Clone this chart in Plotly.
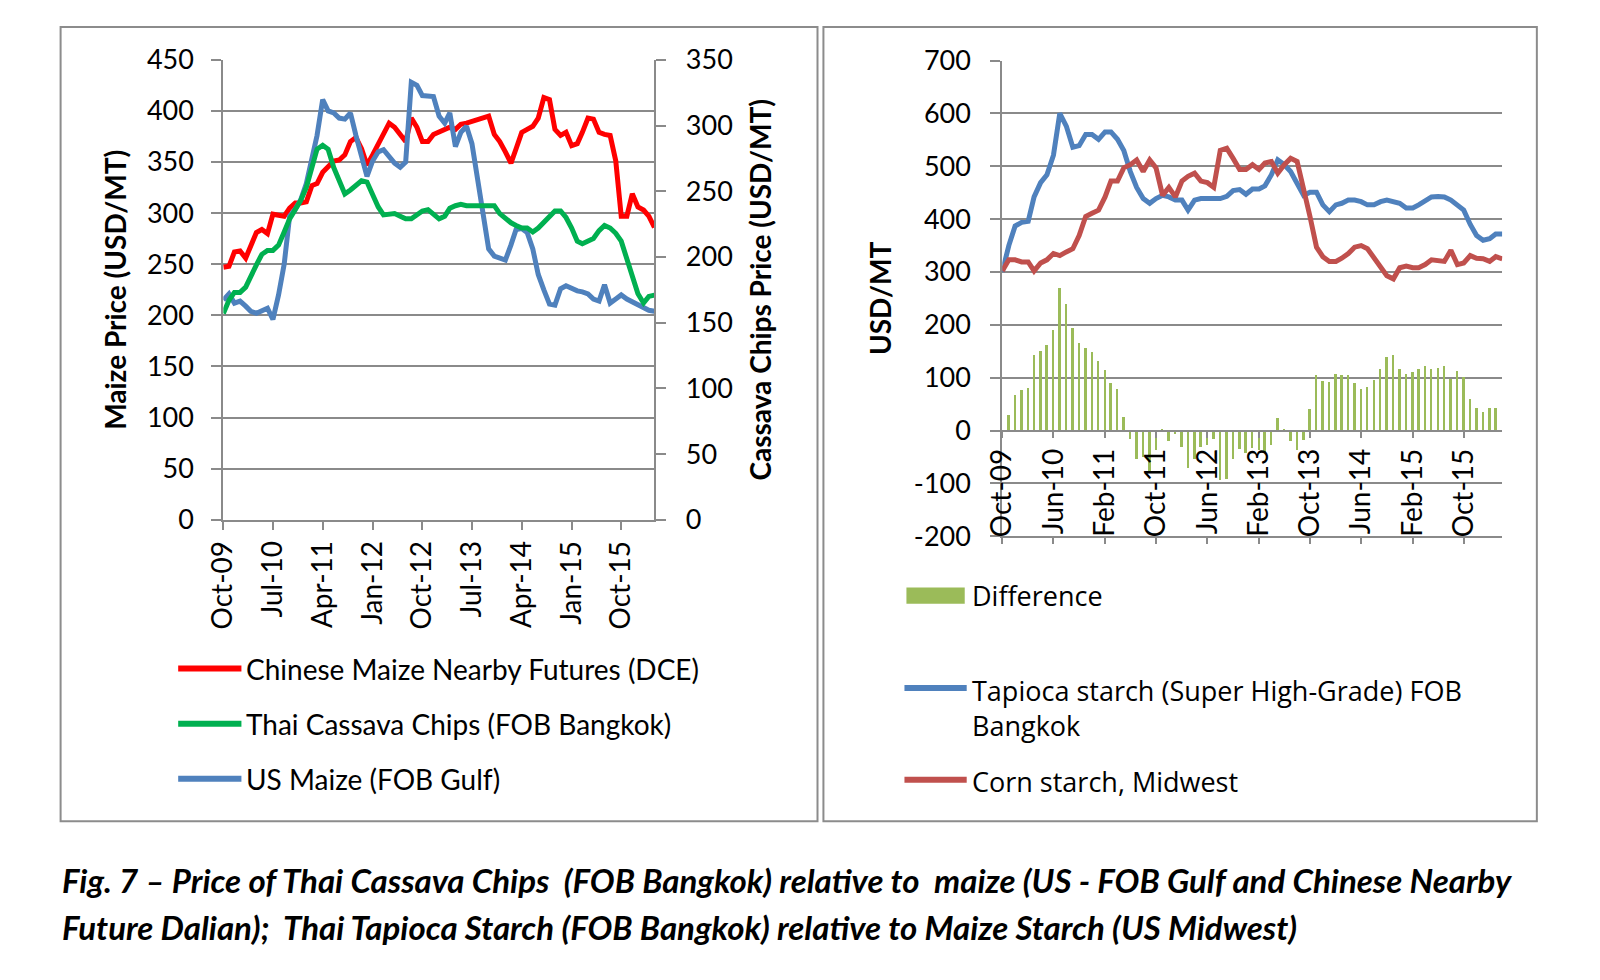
import pandas as pd
import plotly.graph_objects as go

# monthly observations, Oct-09 .. Apr-16
months = pd.date_range("2009-10-01", periods=79, freq="MS")

# left panel (USD/MT)
chinese_maize = [247, 248, 262, 263, 256, 269, 281, 284, 280, 299,
                 298, 297, 305, 310, 310, 311, 327, 329, 340, 346,
                 351, 352, 357, 370, 374, 363, 347, 357, 368, 379,
                 388, 384, 377, 370, 393, 384, 370, 370, 377, 379,
                 381, 384, 382, 387, 388, 390, 392, 393, 395, 377,
                 370, 360, 349, 363, 379, 382, 385, 393, 413, 411,
                 382, 376, 379, 366, 368, 379, 393, 392, 379, 377,
                 376, 351, 297, 297, 319, 306, 303, 297, 286]
thai_cassava = [157, 167, 173, 173, 177, 186, 194, 202, 205, 205,
                209, 219, 229, 236, 243, 253, 268, 282, 285, 282,
                268, 258, 248, 251, 254, 258, 257, 248, 238, 232,
                233, 233, 231, 229, 229, 232, 235, 236, 232, 229,
                231, 237, 239, 240, 239, 239, 239, 239, 239, 239,
                233, 229, 226, 224, 222, 222, 219, 222, 226, 231,
                235, 235, 230, 222, 212, 210, 212, 214, 220, 224,
                222, 218, 212, 199, 184, 172, 165, 170, 171]
us_maize = [215, 221, 212, 214, 209, 204, 202, 205, 207, 196,
            220, 250, 297, 304, 313, 329, 354, 376, 411, 400,
            398, 393, 392, 398, 376, 354, 336, 351, 360, 362,
            355, 349, 345, 350, 428, 425, 415, 414, 414, 395,
            388, 398, 365, 379, 385, 368, 335, 300, 265, 258,
            256, 254, 269, 284, 285, 281, 265, 240, 225, 211,
            210, 226, 229, 226, 224, 223, 221, 216, 214, 230,
            212, 216, 220, 216, 213, 210, 207, 205, 204]

# right panel (USD/MT)
tapioca_starch = [300, 350, 387, 394, 396, 442, 469, 484, 521, 600,
                  576, 536, 539, 560, 560, 551, 565, 565, 551, 530,
                  490, 460, 439, 430, 439, 445, 442, 436, 436, 417,
                  436, 439, 439, 439, 439, 443, 454, 456, 447, 457,
                  457, 463, 484, 512, 503, 490, 466, 445, 451, 451,
                  427, 414, 427, 430, 436, 436, 433, 427, 427, 433,
                  436, 433, 430, 421, 421, 427, 436, 442, 443, 442,
                  436, 427, 417, 390, 369, 360, 363, 372, 372]
corn_starch = [302, 323, 323, 319, 319, 302, 317, 323, 335, 331,
               338, 344, 369, 405, 411, 417, 442, 472, 472, 497,
               503, 512, 490, 512, 497, 445, 460, 442, 472, 481,
               487, 472, 469, 460, 530, 534, 515, 494, 494, 503,
               494, 506, 509, 487, 503, 515, 509, 460, 405, 347,
               329, 320, 320, 326, 335, 347, 350, 344, 326, 308,
               293, 287, 308, 311, 308, 308, 314, 323, 321, 320,
               341, 314, 317, 331, 326, 325, 320, 329, 325]
difference = [0, 31, 68, 78, 82, 143, 152, 163, 191, 270,
              240, 195, 167, 156, 149, 133, 116, 91, 80, 26,
              -16, -53, -50, -78, -36, 4, -19, -5, -31, -71,
              -53, -31, -27, -16, -92, -91, -54, -34, -42, -33,
              -36, -41, -27, 25, 4, -19, -36, -18, 41, 105,
              94, 93, 107, 105, 105, 90, 80, 83, 97, 118,
              139, 143, 118, 107, 111, 118, 122, 118, 120, 123,
              98, 113, 103, 60, 43, 35, 44, 44]

right_ticks = [-200, -100, 0, 100, 200, 300, 400, 500, 600, 700]
right_ticktext = ["-200", "-100", "0", "100", "200", "300", "400", "500", "600", "700"]

W, H = 1600, 980
FONT = "Lato, 'Open Sans', sans-serif"
LEGEND_FONT = "'Open Sans', Lato, sans-serif"
GRID = "#8a8a8a"
LW = 5
TICK_FONT = dict(family=FONT, size=27, color="black")
XTICK_FONT = dict(family=FONT, size=28, color="black")
TITLE_FONT = dict(family=FONT, size=28, color="black")


def px(x):
    return x / W


def py(y):
    return 1 - y / H


fig = go.Figure()

# ---- left panel lines
fig.add_trace(go.Scatter(x=months, y=chinese_maize, mode="lines", name="Chinese Maize Nearby Futures (DCE)",
                         line=dict(color="#FF0000", width=LW), xaxis="x", yaxis="y"))
fig.add_trace(go.Scatter(x=months, y=thai_cassava, mode="lines", name="Thai Cassava Chips (FOB Bangkok)",
                         line=dict(color="#00B050", width=LW), xaxis="x", yaxis="y2"))
fig.add_trace(go.Scatter(x=months, y=us_maize, mode="lines", name="US Maize (FOB Gulf)",
                         line=dict(color="#4F81BD", width=LW), xaxis="x", yaxis="y"))

# ---- right panel: bars on the axis through zero, lines on the bottom axis
fig.add_trace(go.Bar(x=months[:len(difference)], y=difference, name="Difference",
                     marker=dict(color="#9BBB59", line=dict(width=0)),
                     width=0.38 * 30.44 * 86400000, xaxis="x3", yaxis="y3"))
fig.add_trace(go.Scatter(x=months, y=tapioca_starch, mode="lines",
                         name="Tapioca starch (Super High-Grade) FOB Bangkok",
                         line=dict(color="#4F81BD", width=LW), xaxis="x2", yaxis="y3"))
fig.add_trace(go.Scatter(x=months, y=corn_starch, mode="lines", name="Corn starch, Midwest",
                         line=dict(color="#C0504D", width=LW), xaxis="x2", yaxis="y3"))

date_range = ["2009-10-01", "2016-04-01"]
left_dom_y = [py(511), py(35)]
right_dom_y = [py(528), py(35.8)]
zero_pos = right_dom_y[0] + (0 - (-200)) / 900 * (right_dom_y[1] - right_dom_y[0])

axis_common = dict(showline=True, linecolor=GRID, linewidth=2, tickcolor=GRID, tickwidth=2,
                   ticks="outside", zeroline=False)

fig.update_layout(
    width=W, height=H,
    margin=dict(l=0, r=0, t=0, b=0),
    paper_bgcolor="white", plot_bgcolor="white",
    showlegend=False,
    bargap=0,
    xaxis=dict(domain=[px(198.7), px(635)], anchor="y", type="date", range=date_range,
               tick0="2009-10-01", dtick="M9", tickformat="%b-%y", tickangle=-90,
               ticklen=8, showgrid=False, ticklabelstandoff=0, tickfont=XTICK_FONT, **axis_common),
    yaxis=dict(domain=left_dom_y, anchor="x", range=[0, 450], dtick=50, ticklen=10,
               showgrid=True, gridcolor=GRID, gridwidth=2, ticklabelstandoff=12, tickfont=TICK_FONT,
               title=dict(text="<b>Maize Price (USD/MT)</b>", font=TITLE_FONT, standoff=12),
               **axis_common),
    yaxis2=dict(overlaying="y", side="right", anchor="x", range=[0, 350], dtick=50, ticklen=10,
                showgrid=False, ticklabelstandoff=14, tickfont=TICK_FONT,
                title=dict(text="<b>Cassava Chips Price (USD/MT)</b>", font=TITLE_FONT, standoff=20),
                **axis_common),
    xaxis2=dict(domain=[px(987), px(1493)], anchor="y3", type="date", range=date_range,
                tick0="2009-10-01", dtick="M8", ticklen=6, showticklabels=False, showgrid=False,
                **axis_common),
    xaxis3=dict(overlaying="x2", anchor="free", position=zero_pos, type="date", range=date_range,
                tick0="2009-10-01", dtick="M8", tickformat="%b-%y", tickangle=-90, ticklen=6,
                showgrid=False, ticklabelstandoff=0, tickfont=XTICK_FONT, **axis_common),
    yaxis3=dict(domain=right_dom_y, anchor="x2", range=[-200, 700], tickvals=right_ticks,
                ticktext=right_ticktext, ticklen=10, showgrid=True, gridcolor=GRID, gridwidth=2,
                ticklabelstandoff=14, tickfont=TICK_FONT,
                title=dict(text="<b>USD/MT</b>", font=TITLE_FONT, standoff=14),
                **axis_common),
)

# ---- panel frames
shapes = [
    dict(type="rect", xref="paper", yref="paper", x0=px(34), x1=px(800), y0=py(823), y1=py(1),
         line=dict(color="#8c8c8c", width=2)),
    dict(type="rect", xref="paper", yref="paper", x0=px(806), x1=px(1528), y0=py(823), y1=py(1),
         line=dict(color="#8c8c8c", width=2)),
]

# ---- hand-placed legends (as in the source layout)
annotations = []
left_legend = [("Chinese Maize Nearby Futures (DCE)", "#FF0000", 665),
               ("Thai Cassava Chips (FOB Bangkok)", "#00B050", 722),
               ("US Maize (FOB Gulf)", "#4F81BD", 779)]
for label, color, y in left_legend:
    shapes.append(dict(type="line", xref="paper", yref="paper", x0=px(153), x1=px(217), y0=py(y), y1=py(y),
                       line=dict(color=color, width=6)))
    annotations.append(dict(text=label, xref="paper", yref="paper", x=px(220), y=py(y), xanchor="left",
                            yanchor="middle", showarrow=False, font=dict(family=FONT, size=28, color="black")))

shapes.append(dict(type="rect", xref="paper", yref="paper", x0=px(890), x1=px(949), y0=py(598), y1=py(581),
                   fillcolor="#9BBB59", line=dict(width=0)))
annotations.append(dict(text="Difference", xref="paper", yref="paper", x=px(954), y=py(589), xanchor="left",
                        yanchor="middle", showarrow=False, font=dict(family=LEGEND_FONT, size=27, color="black")))
right_legend = [("Tapioca starch (Super High-Grade) FOB<br>Bangkok", "#4F81BD", 685),
                ("Corn starch, Midwest", "#C0504D", 780)]
for label, color, y in right_legend:
    shapes.append(dict(type="line", xref="paper", yref="paper", x0=px(888), x1=px(951), y0=py(y), y1=py(y),
                       line=dict(color=color, width=6)))
    annotations.append(dict(text=label, xref="paper", yref="paper", x=px(954), y=py(y - 19), xanchor="left",
                            yanchor="top", align="left", showarrow=False,
                            font=dict(family=LEGEND_FONT, size=27, color="black")))

# ---- caption
caption = ["<b><i>Fig. 7 – Price of Thai Cassava Chips  (FOB Bangkok) relative to  maize (US - FOB Gulf and Chinese Nearby</i></b>",
           "<b><i>Future Dalian);  Thai Tapioca Starch (FOB Bangkok) relative to Maize Starch (US Midwest)</i></b>"]
for line, y in zip(caption, [884, 932]):
    annotations.append(dict(text=line, xref="paper", yref="paper", x=px(33), y=py(y), xanchor="left",
                            yanchor="middle", showarrow=False, font=dict(family=FONT, size=33, color="black")))

fig.update_layout(shapes=shapes, annotations=annotations)

fig.write_html("out.html")
